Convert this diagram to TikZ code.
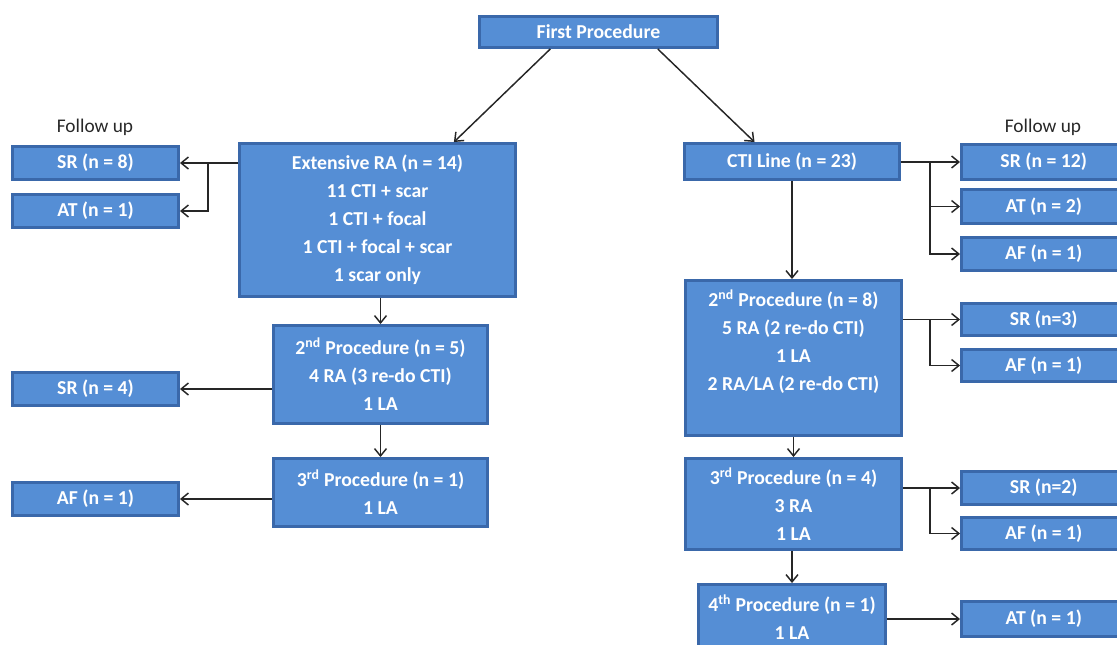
\documentclass[tikz,border=0pt]{standalone}
\usepackage{fontspec}
\setmainfont{Carlito}
\usetikzlibrary{arrows.meta,calc}
\definecolor{boxfill}{RGB}{85,142,213}
\definecolor{boxedge}{RGB}{58,104,170}
\definecolor{lbl}{RGB}{40,40,40}
\newcommand\bx[7][]{%
  \pgfmathsetmacro\bxw{(#5-#3)*0.75}%
  \pgfmathsetmacro\bxh{(#6-#4)*0.75}%
  \pgfmathsetmacro\bxcx{(#3+#5)/2}%
  \pgfmathsetmacro\bxcy{(#4+#6)/2}%
  \node[box,minimum width=\bxw pt,minimum height=\bxh pt,#1] (#2) at (\bxcx,\bxcy) {#7};}
\begin{document}
\begin{tikzpicture}[x=0.75pt,y=-0.75pt,
  box/.style={draw=boxedge,fill=boxfill,line width=2.2pt,inner sep=0pt,text=white,
    font=\bfseries\fontsize{14.8}{21}\selectfont,align=center},
  txt/.style={text=white,font=\bfseries\fontsize{14.8}{21}\selectfont,align=center,inner sep=0pt},
  fu/.style={text=lbl,font=\fontsize{14.5}{17}\selectfont,inner sep=0pt},
  arr/.style={draw=black!85,line width=1.1pt,-{Straight Barb[length=5.5pt,width=9pt,line width=1.1pt]}}]
\useasboundingbox (0,0) rectangle (1117,644);
\begin{scope}
\clip (0,0) rectangle (1117,644);
% boxes
\bx{first}{479.5}{16.5}{717.5}{47.5}{First Procedure}
\bx{ext}{239.5}{143.5}{515.5}{296.5}{Extensive RA (n = 14)\\11 CTI + scar\\1 CTI + focal\\1 CTI + focal + scar\\1 scar only}
\bx{sr8}{12.5}{146.5}{178.5}{179.5}{SR (n = 8)}
\bx{at1L}{12.5}{194.5}{178.5}{227.5}{AT (n = 1)}
\bx{p2L}{273.5}{325.5}{487.5}{423.5}{2\textsuperscript{nd} Procedure (n = 5)\\4 RA (3 re-do CTI)\\1 LA}
\bx{sr4}{12.5}{372.5}{178.5}{405.5}{SR (n = 4)}
\bx{p3L}{273.5}{458.5}{487.5}{526.5}{3\textsuperscript{rd} Procedure (n = 1)\\1 LA}
\bx{af1L}{12.5}{482.5}{178.5}{515.5}{AF (n = 1)}
\bx{cti}{684.5}{143.5}{899.5}{179.5}{CTI Line (n = 23)}
\bx{sr12}{961.5}{144.5}{1126}{179.5}{SR (n = 12)}
\bx{at2}{961.5}{189.5}{1126}{223.5}{AT (n = 2)}
\bx{af1a}{961.5}{237.5}{1126}{270.5}{AF (n = 1)}
\bx{p2R}{685.5}{280.5}{901.5}{435.5}{}
\node[txt] (p2Rt) at (793.5,341.5) {2\textsuperscript{nd} Procedure (n = 8)\\5 RA (2 re-do CTI)\\1 LA\\2 RA/LA (2 re-do CTI)};
\bx{sr3}{961.5}{303.5}{1126}{335.5}{SR (n=3)}
\bx{af1b}{961.5}{349.5}{1126}{381.5}{AF (n = 1)}
\bx{p3R}{685.5}{458.5}{901.5}{549.5}{3\textsuperscript{rd} Procedure (n = 4)\\3 RA\\1 LA}
\bx{sr2}{961.5}{471.5}{1126}{504.5}{SR (n=2)}
\bx{af1c}{961.5}{517.5}{1126}{549.5}{AF (n = 1)}
\bx{p4}{698.5}{584.5}{885.5}{665}{}
\node[txt] (p4t) at (792,617) {4\textsuperscript{th} Procedure (n = 1)\\1 LA};
\bx{at1R}{961.5}{601.5}{1126}{636.5}{AT (n = 1)}
% labels
\node[fu] (ful) at (95,127) {Follow up};
\node[fu] (fur) at (1043,127) {Follow up};
% junction coordinates
\coordinate (jl) at (208,0);
\coordinate (jr) at (930,0);
% connectors
\draw[arr] ($(first.south west)!0.3!(first.south east)$) -- ($(ext.north west)!0.774!(ext.north east)$);
\draw[arr] ($(first.south west)!0.746!(first.south east)$) -- ($(cti.north west)!0.328!(cti.north east)$);
\draw[arr] (ext.west |- sr8.east) -- (sr8.east);
\draw[arr] (sr8.east -| jl) |- (at1L.east);
\draw[arr] (ext.south -| p2L.north) -- (p2L.north);
\draw[arr] (p2L.west |- sr4.east) -- (sr4.east);
\draw[arr] (p2L.south) -- (p3L.north);
\draw[arr] (p3L.west |- af1L.east) -- (af1L.east);
\draw[arr] (cti.east |- sr12.west) -- (sr12.west);
\draw[arr] (sr12.west -| jr) |- (at2.west);
\draw[arr] (sr12.west -| jr) |- (af1a.west);
\draw[arr] (cti.south) -- (cti.south |- p2R.north);
\draw[arr] (p2R.east |- sr3.west) -- (sr3.west);
\draw[arr] (sr3.west -| jr) |- (af1b.west);
\draw[arr] (p2R.south) -- (p3R.north);
\draw[arr] (p3R.east |- sr2.west) -- (sr2.west);
\draw[arr] (sr2.west -| jr) |- (af1c.west);
\draw[arr] (p3R.south -| p4.north) -- (p4.north);
\draw[arr] (p4.east |- at1R.west) -- (at1R.west);
\end{scope}
\end{tikzpicture}
\end{document}
